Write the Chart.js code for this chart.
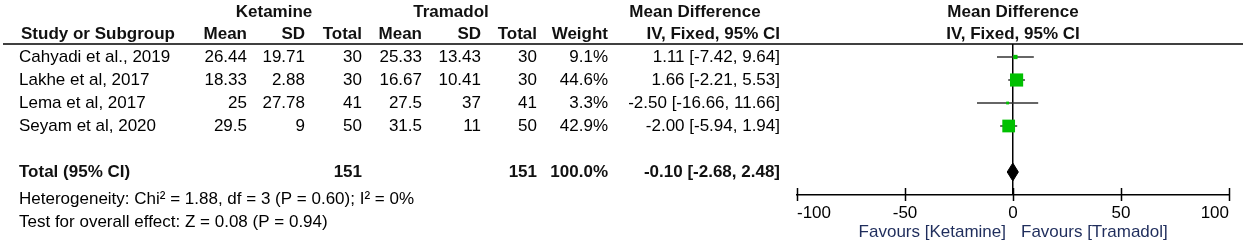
<!DOCTYPE html>
<html>
<head>
<meta charset="utf-8">
<script src="https://cdn.jsdelivr.net/npm/chart.js@4.4.1/dist/chart.umd.min.js"></script>
<style>
  body { margin: 0; background: #fff; }
  canvas { display: block; }
</style>
</head>
<body>
<canvas id="forest" width="1248" height="244"></canvas>
<script>
// Study data
const studies = ["Cahyadi et al., 2019", "Lakhe et al, 2017", "Lema et al, 2017", "Seyam et al, 2020"];
const ketMean = [26.44, 18.33, 25, 29.5];
const ketSD = [19.71, 2.88, 27.78, 9];
const ketTotal = [30, 30, 41, 50];
const traMean = [25.33, 16.67, 27.5, 31.5];
const traSD = [13.43, 10.41, 37, 11];
const traTotal = [30, 30, 41, 50];
const weights = [9.1, 44.6, 3.3, 42.9];
const meanDiff = [1.11, 1.66, -2.5, -2.0];
const ciLow = [-7.42, -2.21, -16.66, -5.94];
const ciHigh = [9.64, 5.53, 11.66, 1.94];

// Pooled result
const pooled = [-0.1, -2.68, 2.48];
const pooledN = [151, 151];
const footnotes = [
  "Heterogeneity: Chi\u00b2 = 1.88, df = 3 (P = 0.60); I\u00b2 = 0%",
  "Test for overall effect: Z = 0.08 (P = 0.94)",
];
const axisTicks = [-100, -50, 0, 50, 100];
const favours = ["Favours [Ketamine]", "Favours [Tramadol]"];

const FONT = "Liberation Sans, Arial, sans-serif";
const totalRow = 6;
const rows = studies.map((s, i) => i + 1);

const ciText = (m, l, h) => `${m.toFixed(2)} [${l.toFixed(2)}, ${h.toFixed(2)}]`;
const boxSide = (w) => 2 + w * 0.25;

// Whiskers, one dataset per study
const whiskers = studies.map((s, i) => ({
  type: "line",
  order: 2,
  data: [
    { x: ciLow[i], y: rows[i] },
    { x: ciHigh[i], y: rows[i] },
  ],
  borderColor: "#333",
  borderWidth: 1.5,
  pointRadius: 0,
}));

const boxes = {
  type: "scatter",
  order: 0,
  data: studies.map((s, i) => ({ x: meanDiff[i], y: rows[i] })),
  pointStyle: "rect",
  pointRadius: weights.map((w) => boxSide(w) / Math.SQRT2),
  backgroundColor: "#00c000",
  borderColor: "#00c000",
  borderWidth: 0,
};

const dh = 0.39;
const diamond = {
  type: "line",
  order: 1,
  data: [
    { x: pooled[1], y: totalRow },
    { x: pooled[0], y: totalRow - dh },
    { x: pooled[2], y: totalRow },
    { x: pooled[0], y: totalRow + dh },
    { x: pooled[1], y: totalRow },
  ],
  borderColor: "#000",
  backgroundColor: "#000",
  borderWidth: 1,
  fill: "shape",
  pointRadius: 0,
  tension: 0,
};

// Table text and decorations
const tablePlugin = {
  id: "table",
  afterDraw(chart) {
    const { ctx, chartArea, scales } = chart;
    const x = scales.x;
    const y = scales.y;
    const zero = x.getPixelForValue(0);
    const text = (s, px, py, align, bold, color) => {
      ctx.font = `${bold ? "bold " : ""}17px ${FONT}`;
      ctx.fillStyle = color || "#000";
      ctx.textAlign = align;
      ctx.textBaseline = "middle";
      ctx.fillText(s, px, py);
    };
    ctx.save();

    // header line
    ctx.strokeStyle = "#000";
    ctx.lineWidth = 1.5;
    ctx.beginPath();
    ctx.moveTo(3, 44);
    ctx.lineTo(1243, 44);
    ctx.stroke();

    // headers
    const hc = "#111";
    text("Ketamine", 274, 12, "center", true, hc);
    text("Tramadol", 451, 12, "center", true, hc);
    text("Mean Difference", 695, 12, "center", true, hc);
    text("Mean Difference", zero, 12, "center", true, hc);
    text("Study or Subgroup", 21, 34, "left", true, hc);
    text("Mean", 247, 34, "right", true, hc);
    text("SD", 305, 34, "right", true, hc);
    text("Total", 362, 34, "right", true, hc);
    text("Mean", 422, 34, "right", true, hc);
    text("SD", 481, 34, "right", true, hc);
    text("Total", 537, 34, "right", true, hc);
    text("Weight", 608, 34, "right", true, hc);
    text("IV, Fixed, 95% CI", 780, 34, "right", true, hc);
    text("IV, Fixed, 95% CI", zero, 34, "center", true, hc);

    // study rows
    studies.forEach((s, i) => {
      const py = y.getPixelForValue(rows[i]);
      text(s, 19, py, "left");
      text(String(ketMean[i]), 247, py, "right");
      text(String(ketSD[i]), 305, py, "right");
      text(String(ketTotal[i]), 362, py, "right");
      text(String(traMean[i]), 422, py, "right");
      text(String(traSD[i]), 481, py, "right");
      text(String(traTotal[i]), 537, py, "right");
      text(weights[i].toFixed(1) + "%", 608, py, "right");
      text(ciText(meanDiff[i], ciLow[i], ciHigh[i]), 780, py, "right");
    });

    // total row
    const ty = y.getPixelForValue(totalRow);
    text("Total (95% CI)", 19, ty, "left", true, hc);
    text(String(pooledN[0]), 362, ty, "right", true, hc);
    text(String(pooledN[1]), 537, ty, "right", true, hc);
    text("100.0%", 608, ty, "right", true, hc);
    text(ciText(pooled[0], pooled[1], pooled[2]), 780, ty, "right", true, hc);

    // footnotes
    text(footnotes[0], 19, 199, "left");
    text(footnotes[1], 19, 222, "left");

    // axis tick marks
    ctx.strokeStyle = "#000";
    ctx.lineWidth = 1.5;
    x.ticks.forEach((t) => {
      const px = Math.round(x.getPixelForValue(t.value)) + 0.5;
      ctx.beginPath();
      ctx.moveTo(px, chartArea.bottom - 7);
      ctx.lineTo(px, chartArea.bottom + 6);
      ctx.stroke();
    });

    // favours labels
    const fc = "#1f2d5c";
    text(favours[0], zero - 7, 232, "right", false, fc);
    text(favours[1], zero + 8, 232, "left", false, fc);
    ctx.restore();
  },
};

new Chart(document.getElementById("forest"), {
  data: { datasets: [...whiskers, boxes, diamond] },
  options: {
    responsive: false,
    animation: false,
    layout: { padding: { left: 797, right: 19, top: 44, bottom: 0 } },
    plugins: { legend: { display: false }, tooltip: { enabled: false } },
    scales: {
      x: {
        type: "linear",
        min: -100,
        max: 100,
        afterBuildTicks: (scale) => {
          scale.ticks = axisTicks.map((v) => ({ value: v }));
        },
        afterFit: (scale) => {
          scale.height = 49;
        },
        ticks: {
          align: "inner",
          padding: 8,
          color: "#000",
          font: { family: FONT, size: 17 },
        },
        grid: {
          drawTicks: false,
          color: (c) => (c.tick && c.tick.value === 0 ? "#000" : "rgba(0,0,0,0)"),
          lineWidth: (c) => (c.tick && c.tick.value === 0 ? 1.5 : 0),
        },
        border: { display: true, color: "#000", width: 1.5 },
      },
      y: {
        type: "linear",
        display: false,
        reverse: true,
        min: 0.435,
        max: 7,
      },
    },
  },
  plugins: [tablePlugin],
});
</script>
</body>
</html>
